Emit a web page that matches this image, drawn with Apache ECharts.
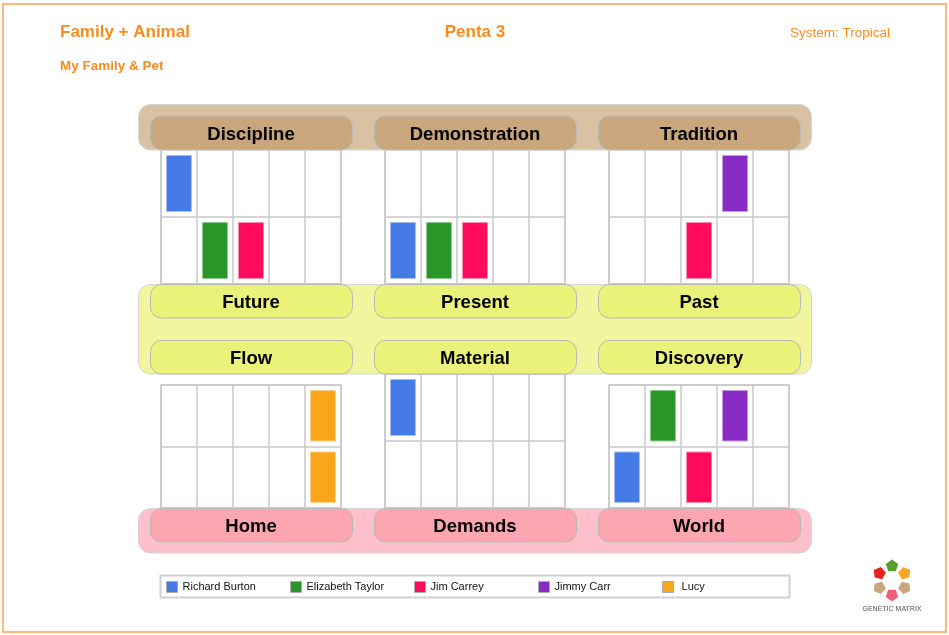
<!DOCTYPE html>
<html>
<head>
<meta charset="utf-8">
<script src="https://cdn.jsdelivr.net/npm/echarts@6/dist/echarts.min.js"></script>
<style>
html,body{margin:0;padding:0;background:#fff;}
#chart{width:949px;height:635px;}
</style>
</head>
<body>
<div id="chart"></div>
<script>
// ---- data ----
const people = ['Richard Burton', 'Elizabeth Taylor', 'Jim Carrey', 'Jimmy Carr', 'Lucy'];
const rowNames = ['Upper', 'Lower'];
const topLabels = ['Discipline', 'Demonstration', 'Tradition'];
const midLabels1 = ['Future', 'Present', 'Past'];
const midLabels2 = ['Flow', 'Material', 'Discovery'];
const bottomLabels = ['Home', 'Demands', 'World'];
// row indices (0 = upper, 1 = lower) occupied by each person, per block
const discipline    = [[0], [1], [1], [], []];
const demonstration = [[1], [1], [1], [], []];
const tradition     = [[], [], [1], [0], []];
const flow          = [[], [], [], [], [0, 1]];
const material      = [[0], [], [], [], []];
const discovery     = [[1], [0], [1], [0], []];
const blocks = [discipline, demonstration, tradition, flow, material, discovery];

// ---- styles ----
const personColors = ['#4579e6', '#2a9628', '#ff0a5c', '#8a2ac4', '#f9a61a'];
const personBorders = ['#a6c0f3', '#8fcb8d', '#ff8db2', '#c89ae6', '#fcd28c'];
const orange = '#f98b1c';
const lineCol = '#c8c8c8';
const gridBoxes = [
  {left: 161, top: 150, width: 180, height: 134},
  {left: 385, top: 150, width: 180, height: 134},
  {left: 609, top: 150, width: 180, height: 134},
  {left: 161, top: 385, width: 180, height: 123},
  {left: 385, top: 374, width: 180, height: 134},
  {left: 609, top: 385, width: 180, height: 123}
];
const colX = [150, 374, 598];
const labelFont = 'bold 18.5px "Liberation Sans", Arial, sans-serif';

const chart = echarts.init(document.getElementById('chart'), null, {renderer: 'canvas'});

const grid = gridBoxes.map(b => Object.assign({show: true, borderColor: lineCol, borderWidth: 1.5, backgroundColor: '#fff'}, b));
const xAxis = gridBoxes.map((b, i) => ({
  type: 'category', gridIndex: i, data: people,
  axisLabel: {show: false}, axisTick: {show: false}, axisLine: {show: false},
  splitLine: {show: true, interval: 0, lineStyle: {color: lineCol, width: 1.5}}
}));
const yAxis = gridBoxes.map((b, i) => ({
  type: 'category', gridIndex: i, data: rowNames, inverse: true,
  axisLabel: {show: false}, axisTick: {show: false}, axisLine: {show: false},
  splitLine: {show: true, interval: 0, lineStyle: {color: lineCol, width: 1.5}}
}));

const series = [];
blocks.forEach((block, g) => {
  block.forEach((rows, p) => {
    series.push({
      type: 'custom', name: people[p], xAxisIndex: g, yAxisIndex: g,
      itemStyle: {color: personColors[p]},
      data: rows.map(r => [p, r]),
      renderItem: function (params, api) {
        const c = api.coord([api.value(0), api.value(1)]);
        const s = api.size([1, 1]);
        return {
          type: 'rect',
          shape: {x: c[0] - s[0] / 2 + 5.5, y: c[1] - s[1] / 2 + 5.5, width: s[0] - 11, height: s[1] - 11},
          style: {fill: personColors[p], stroke: personBorders[p], lineWidth: 1}
        };
      }
    });
  });
});

function band(y, h, fill) {
  return {type: 'rect', z: 10, shape: {x: 138.5, y: y, width: 673, height: h, r: 12},
    style: {fill: fill, stroke: '#d6d6d6', lineWidth: 1}};
}
function labelBox(x, y, fill, text) {
  return [
    {type: 'rect', z: 11, shape: {x: x + 0.5, y: y, width: 202, height: 33.5, r: 11},
      style: {fill: fill, stroke: '#b9b9b9', lineWidth: 1}},
    {type: 'text', z: 12, style: {text: text, x: x + 101, y: y + 18.5, textAlign: 'center', textVerticalAlign: 'middle',
      font: labelFont, fill: '#000'}}
  ];
}

const graphic = [];
graphic.push({type: 'rect', z: 0, shape: {x: 3, y: 4, width: 943, height: 628},
  style: {fill: 'none', stroke: '#fbb878', lineWidth: 2}});
graphic.push({type: 'text', style: {text: 'Family + Animal', x: 60, y: 32.5, textVerticalAlign: 'middle',
  font: 'bold 17px "Liberation Sans", Arial, sans-serif', fill: orange}});
graphic.push({type: 'text', style: {text: 'Penta 3', x: 475, y: 32.5, textAlign: 'center', textVerticalAlign: 'middle',
  font: 'bold 17px "Liberation Sans", Arial, sans-serif', fill: orange}});
graphic.push({type: 'text', style: {text: 'System: Tropical', x: 890, y: 33.5, textAlign: 'right', textVerticalAlign: 'middle',
  font: '13.5px "Liberation Sans", Arial, sans-serif', fill: orange}});
graphic.push({type: 'text', style: {text: 'My Family & Pet', x: 60, y: 66.5, textVerticalAlign: 'middle',
  font: 'bold 13.5px "Liberation Sans", Arial, sans-serif', fill: orange}});

graphic.push(band(104.5, 45.5, '#d9c2a3'));
graphic.push(band(284.5, 89.5, '#f0f59e'));
graphic.push(band(508.5, 44.5, '#fdbfc9'));
colX.forEach((x, i) => {
  graphic.push(...labelBox(x, 116, '#c9a67b', topLabels[i]));
  graphic.push(...labelBox(x, 284.5, '#eaf27a', midLabels1[i]));
  graphic.push(...labelBox(x, 340.5, '#eaf27a', midLabels2[i]));
  graphic.push(...labelBox(x, 508.5, '#fca6b2', bottomLabels[i]));
});

// legend frame
graphic.push({type: 'rect', z: 1, shape: {x: 160.5, y: 575.5, width: 629, height: 22},
  style: {fill: '#fff', stroke: '#d0d0d0', lineWidth: 2}});

// logo
const logoCx = 892, logoCy = 580.5, logoR = 14.5;
const logoCols = ['#5a9e2f', '#f5a623', '#c9a77c', '#f0607a', '#c9a77c', '#e8231e'];
logoCols.forEach((col, k) => {
  const ang = (-90 + 60 * k) * Math.PI / 180;
  const cx = logoCx + logoR * Math.cos(ang), cy = logoCy + logoR * Math.sin(ang);
  const pts = [];
  for (let j = 0; j < 5; j++) {
    const a = ang + (j * 72) * Math.PI / 180;
    pts.push([cx + 6.5 * Math.cos(a), cy + 6.5 * Math.sin(a)]);
  }
  graphic.push({type: 'polygon', z: 5, shape: {points: pts}, style: {fill: col}});
});
graphic.push({type: 'text', z: 5, style: {text: 'GENETIC MATRIX', x: 892, y: 609, textAlign: 'center', textVerticalAlign: 'middle',
  font: '7px "Liberation Sans", Arial, sans-serif', fill: '#555'}});

const legend = people.map((name, i) => ({
  data: [name], left: 166 + 124 * i, top: 581, padding: 0,
  itemWidth: 11, itemHeight: 11, icon: 'rect', selectedMode: false, z: 5,
  itemStyle: {borderColor: '#aaa', borderWidth: 1},
  formatter: n => (n === 'Lucy' ? ' ' + n : n),
  textStyle: {fontSize: 11, color: '#111', fontFamily: '"Liberation Sans", Arial, sans-serif'}
}));

chart.setOption({
  animation: false,
  backgroundColor: '#fff',
  grid: grid,
  xAxis: xAxis,
  yAxis: yAxis,
  legend: legend,
  graphic: graphic,
  series: series
});
</script>
</body>
</html>
